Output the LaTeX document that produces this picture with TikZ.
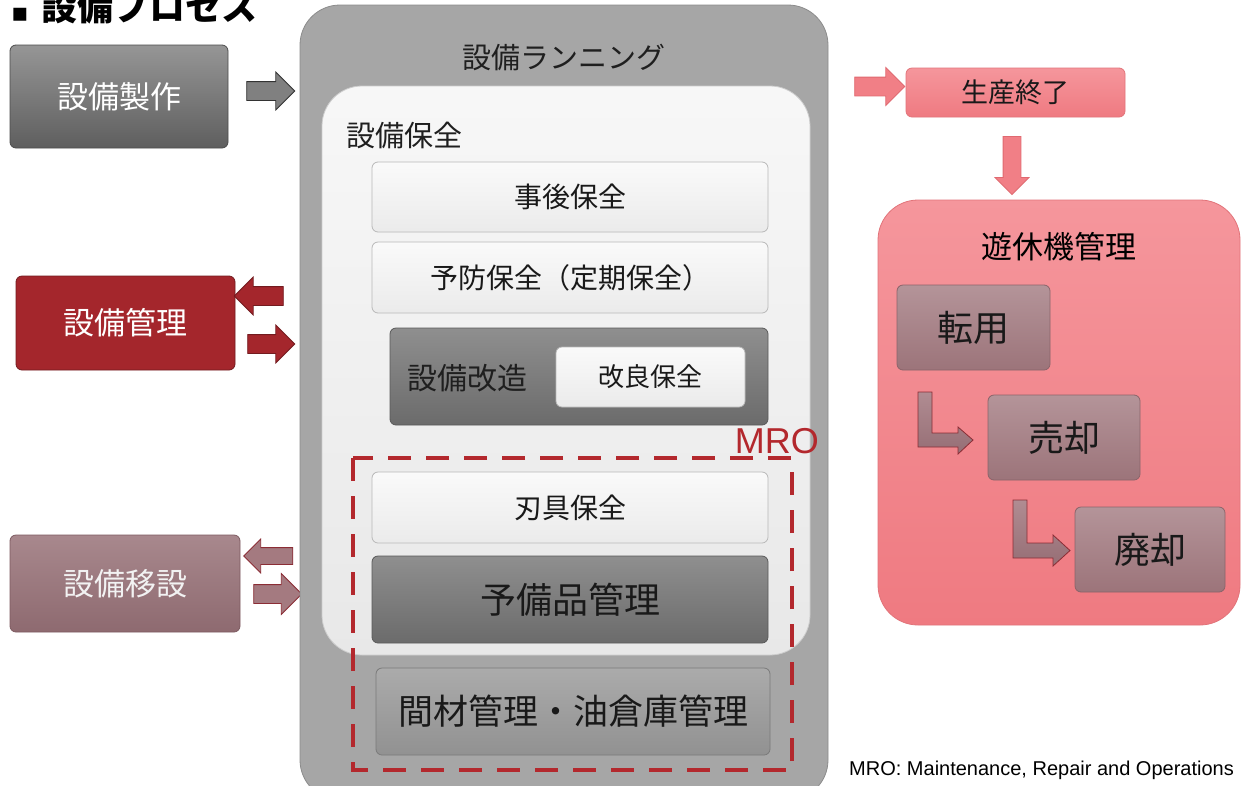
\documentclass[tikz,border=0pt]{standalone}
\usepackage{fontspec}
\setmainfont{Noto Sans CJK JP}
\newfontfamily\latinfont{Liberation Sans}
\newfontfamily\symfont{DejaVu Sans}
\usetikzlibrary{shapes.arrows}
\newcommand{\fsz}[1]{\fontsize{#1pt}{#1pt}\selectfont}
\definecolor{mrored}{HTML}{B3282D}
\definecolor{kanri}{HTML}{A4262C}
\tikzset{
  boxbase/.style={rectangle, rounded corners=6pt, inner sep=0pt, align=center, line width=0.8pt},
  graybox/.style={boxbase, top color=gray!90!black!75, bottom color=gray!60!black!90, draw=gray!60!black, text=white},
  redbox/.style={boxbase, fill=kanri, draw=kanri!70!black, text=white},
  mauvebox/.style={boxbase, top color={rgb,255:red,168;green,136;blue,141}, bottom color={rgb,255:red,142;green,106;blue,112}, draw={rgb,255:red,125;green,90;blue,96}, text=white!95!black},
  lightbox/.style={boxbase, top color=white!98!black, bottom color=white!92!black, draw=white!72!black, text=black!90},
  darkbox/.style={boxbase, top color=black!44, bottom color=black!58, draw=black!65, text=black!90},
  midbox/.style={boxbase, top color=black!33, bottom color=black!43, draw=black!52, text=black!90},
  pinkbox/.style={boxbase, top color={rgb,255:red,245;green,150;blue,156}, bottom color={rgb,255:red,239;green,122;blue,129}, draw={rgb,255:red,226;green,116;blue,122}, text=black!90},
  idlebox/.style={boxbase, top color={rgb,255:red,180;green,148;blue,153}, bottom color={rgb,255:red,156;green,116;blue,122}, draw={rgb,255:red,138;green,100;blue,106}, text=black!90},
  barrow/.style={single arrow, inner xsep=0pt, inner ysep=9pt, single arrow head extend=9.5pt, single arrow head indent=0pt, line width=0.8pt},
  grayarrow/.style={barrow, fill=black!50, draw=black!80},
  redarrow/.style={barrow, fill=kanri, draw=kanri!70!black},
  mauvearrow/.style={barrow, fill={rgb,255:red,164;green,122;blue,128}, draw={rgb,255:red,139;green,45;blue,53}},
  pinkarrow/.style={barrow, fill={rgb,255:red,241;green,127;blue,134}, draw={rgb,255:red,224;green,105;blue,112}},
  larrow/.style={top color={rgb,255:red,176;green,140;blue,146}, bottom color={rgb,255:red,150;green,110;blue,117}, draw={rgb,255:red,139;green,45;blue,53}, line width=0.8pt}
}
\begin{document}
\begin{tikzpicture}[x=1pt,y=-1pt]
\useasboundingbox (0,0) rectangle (1244,785);
\fill[white] (0,0) rectangle (1244,785);
% title
\node (bullet) at (20,15) {\symfont\fsz{26}▪};
\node[anchor=west] (title) at (38,7) {\fsz{36}\bfseries 設備プロセス};
% left side
\node[graybox, minimum width=218pt, minimum height=103pt] (make) at (119,96.5) {\fsz{31}設備製作};
\node[redbox, minimum width=219pt, minimum height=94pt] (manage) at (125.5,323) {\fsz{31}設備管理};
\node[mauvebox, minimum width=230pt, minimum height=97pt] (move) at (125,583.5) {\fsz{31}設備移設};
\node[grayarrow, minimum height=48pt] (a1) at (266,91) {};
\node[redarrow, minimum height=49pt, rotate=180] (a2) at (263.5,296) {};
\node[redarrow, minimum height=47pt] (a3) at (266.5,344) {};
\node[mauvearrow, minimum height=49pt, rotate=180, inner ysep=8pt, single arrow head extend=8.5pt] (a4) at (272.5,556) {};
\node[mauvearrow, minimum height=48pt, single arrow head extend=11pt] (a5) at (273,594) {};
% running
\node[boxbase, rounded corners=40pt, fill=black!35, draw=black!45, minimum width=528pt, minimum height=795pt] (running) at (564,402.5) {};
\node (runtitle) at (564,57) {\fsz{29}\color{black!88}設備ランニング};
\node[boxbase, rounded corners=40pt, top color=white!97!black, bottom color=white!91!black, draw=white!80!black, minimum width=488pt, minimum height=569pt] (hozen) at (566,370.5) {};
\node[anchor=west] (hozentitle) at (343,135) {\fsz{29}\color{black!88}設備保全};
\node[lightbox, minimum width=396pt, minimum height=70pt] (jigo) at (570,197) {\fsz{28}事後保全};
\node[lightbox, minimum width=396pt, minimum height=71pt] (yobou) at (570,277.5) {\fsz{28}予防保全（定期保全）};
\node[darkbox, minimum width=378pt, minimum height=97pt] (kaizou) at (579,376.5) {};
\node[anchor=west] (kaizoutitle) at (404,378) {\fsz{30}\color{black!88}設備改造};
\node[lightbox, minimum width=189pt, minimum height=60pt] (kairyou) at (650.5,377) {\fsz{26}改良保全};
\node[lightbox, minimum width=396pt, minimum height=71pt] (hamono) at (570,507.5) {\fsz{28}刃具保全};
\node[darkbox, minimum width=396pt, minimum height=87pt] (yobihin) at (570,599.5) {\fsz{36}予備品管理};
\node[midbox, minimum width=394pt, minimum height=87pt] (kanzai) at (573,711.5) {\fsz{35}間材管理・油倉庫管理};
\draw[mrored, line width=4.5pt, dash pattern=on 23pt off 15pt] (353,458) rectangle (792,770);
\node[anchor=base east, inner sep=0pt, text=mrored] (mro) at (819,453) {\latinfont\fsz{36}MRO};
% right side
\node[pinkarrow, minimum height=50pt] (a6) at (875,86.5) {};
\node[pinkbox, minimum width=219pt, minimum height=49pt] (end) at (1015.5,92.5) {\fsz{27}生産終了};
\node[pinkarrow, minimum height=58pt, rotate=-90, inner ysep=8.5pt, single arrow head extend=8pt] (a7) at (1012,161) {};
\node[pinkbox, rounded corners=40pt, minimum width=362pt, minimum height=425pt] (idle) at (1059,412.5) {};
\node (idletitle) at (1059,247) {\fsz{31}遊休機管理};
\node[idlebox, minimum width=153pt, minimum height=85pt] (tenyou) at (973.5,327.5) {\fsz{36}転用};
\node[idlebox, minimum width=152pt, minimum height=85pt] (baikyaku) at (1064,437.5) {\fsz{36}売却};
\node[idlebox, minimum width=150pt, minimum height=85pt] (haikyaku) at (1150,549.5) {\fsz{36}廃却};
\draw[larrow] (918,392) -- (932,392) -- (932,433) -- (958,433) -- (958,427) -- (973,440) -- (958,454) -- (958,447) -- (918,447) -- cycle;
\draw[larrow] (1013,500) -- (1027,500) -- (1027,543) -- (1053,543) -- (1053,535) -- (1070,550.5) -- (1053,566) -- (1053,558) -- (1013,558) -- cycle;
\node[anchor=west, inner sep=0pt] (note) at (849,770) {\latinfont\fsz{20}MRO: Maintenance, Repair and Operations};
\end{tikzpicture}
\end{document}
